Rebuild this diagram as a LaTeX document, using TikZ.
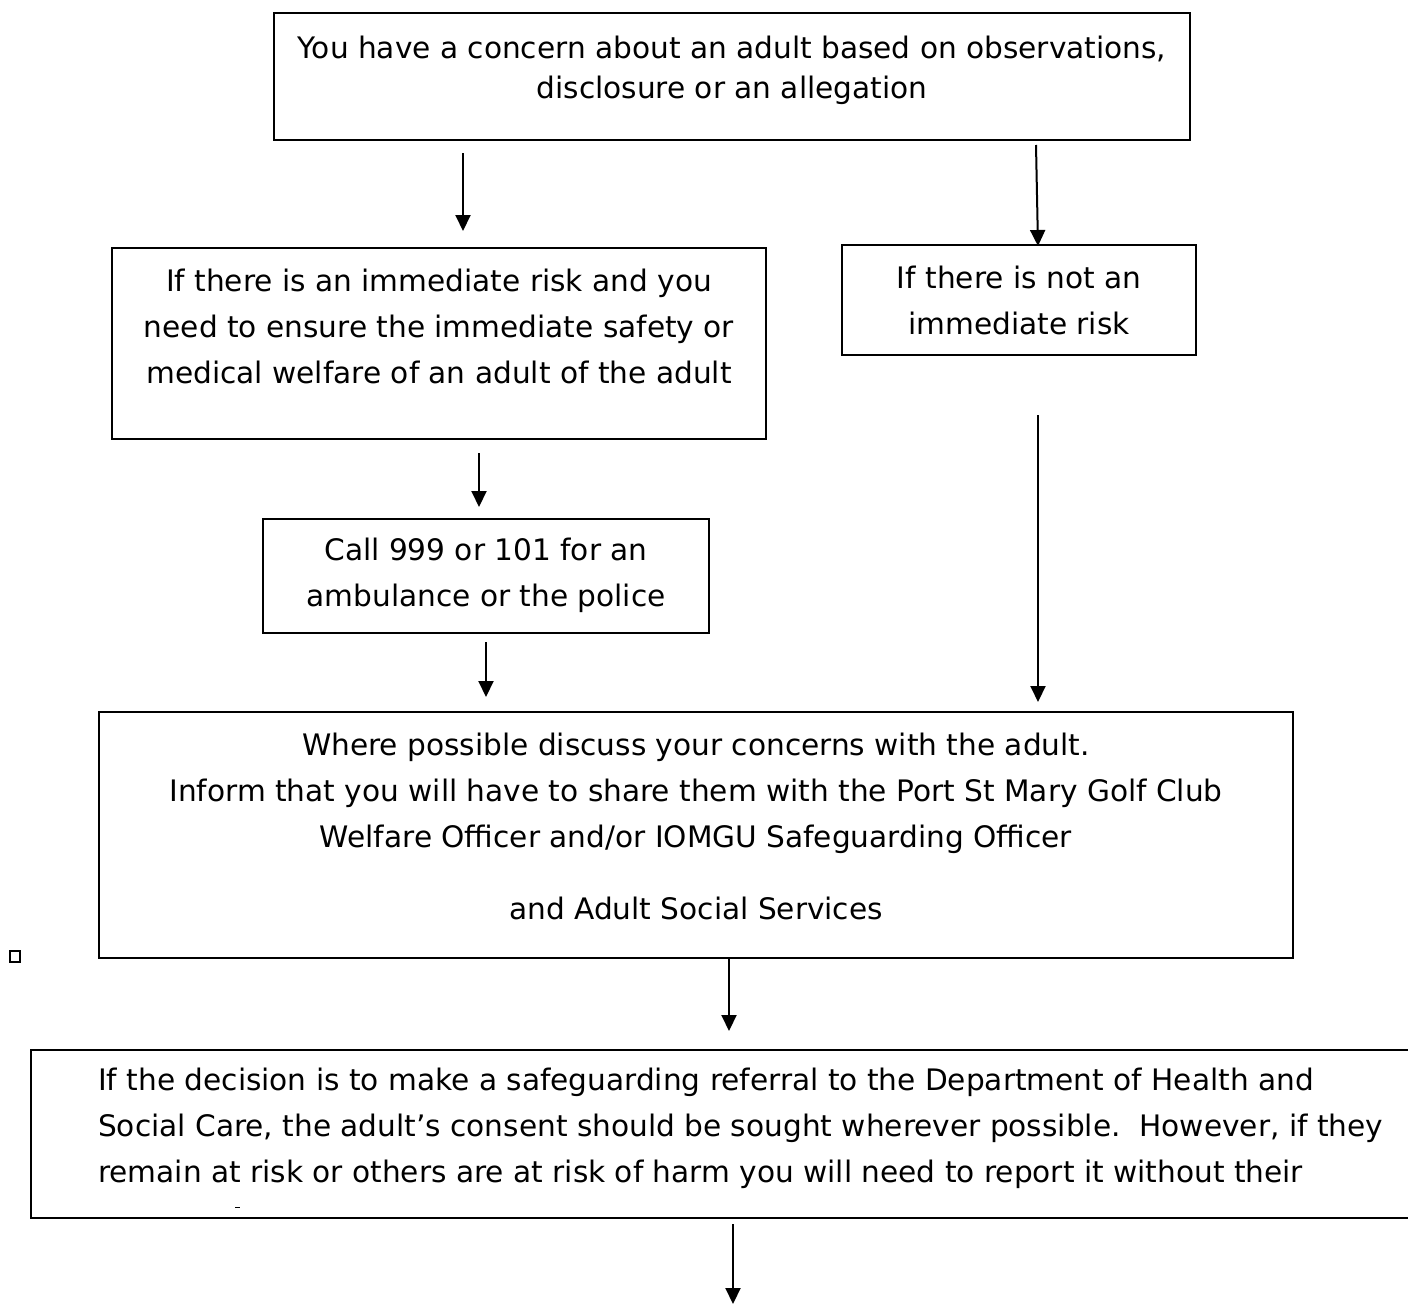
\documentclass[tikz,border=0pt]{standalone}
\usepackage{fontspec}
\setmainfont{DejaVu Sans}
\usetikzlibrary{arrows.meta}
\begin{document}
\begin{tikzpicture}[x=1pt,y=-1pt,
  box/.style={draw, line width=2pt, inner sep=0pt},
  txt/.style={align=center, inner sep=0pt},
  arr/.style={line width=2pt, -{Triangle[length=16pt,width=15pt]}},
  font=\fontsize{29.6}{46}\selectfont]
\useasboundingbox (0,0) rectangle (1408,1304);
\clip (0,0) rectangle (1408,1304);
\fill[white] (0,0) rectangle (1408,1304);

% boxes
\node[box, minimum width=916, minimum height=127] (top) at (732,76.5) {};
\node[txt, font=\fontsize{29.6}{40}\selectfont] (toptext) at (732,70) {You have a concern about an adult based on observations,\\disclosure or an allegation};

\node[box, minimum width=654, minimum height=191] (imm) at (439,343.5) {};
\node[txt] (immtext) at (439,326) {If there is an immediate risk and you\\need to ensure the immediate safety or\\medical welfare of an adult of the adult};

\node[box, minimum width=354, minimum height=110] (not) at (1019,300) {};
\node[txt] (nottext) at (1019,300) {If there is not an\\immediate risk};

\node[box, minimum width=446, minimum height=114] (call) at (486,576) {};
\node[txt] (calltext) at (486,575.5) {Call 999 or 101 for an\\ambulance or the police};

\node[box, minimum width=1194, minimum height=246] (disc) at (696,835) {};
\node[txt] (disctext) at (696,826) {Where possible discuss your concerns with the adult.\\Inform that you will have to share them with the Port St Mary Golf Club\\Welfare Officer and/or IOMGU Safeguarding Officer\\[26pt]and Adult Social Services};

\node[box, minimum width=1450, minimum height=168, anchor=north west] (ref) at (30,1049) {};
\node[align=left, inner sep=0pt, anchor=west] (reftext) at (98,1128.5) {If the decision is to make a safeguarding referral to the Department of Health and\\Social Care, the adult’s consent should be sought wherever possible.\ \ However, if they\\remain at risk or others are at risk of harm you will need to report it without their};

% stray marks
\draw[line width=1.5pt] (10,951) rectangle (20,962);
\draw[line width=1pt] (235,1207) -- (240,1207);

% arrows
\coordinate (a1s) at (463,153); \coordinate (a1e) at (463,231);
\coordinate (a2s) at (1036,145); \coordinate (a2e) at (1038,246);
\coordinate (a3s) at (479,453); \coordinate (a3e) at (479,507);
\coordinate (a4s) at (486,642); \coordinate (a4e) at (486,697);
\coordinate (a5s) at (1038,415); \coordinate (a5e) at (1038,702);
\coordinate (a6s) at (729,958); \coordinate (a6e) at (729,1031);
\coordinate (a7s) at (733,1224); \coordinate (a7e) at (733,1304);
\foreach \i in {1,...,7} \draw[arr] (a\i s) -- (a\i e);
\end{tikzpicture}
\end{document}
